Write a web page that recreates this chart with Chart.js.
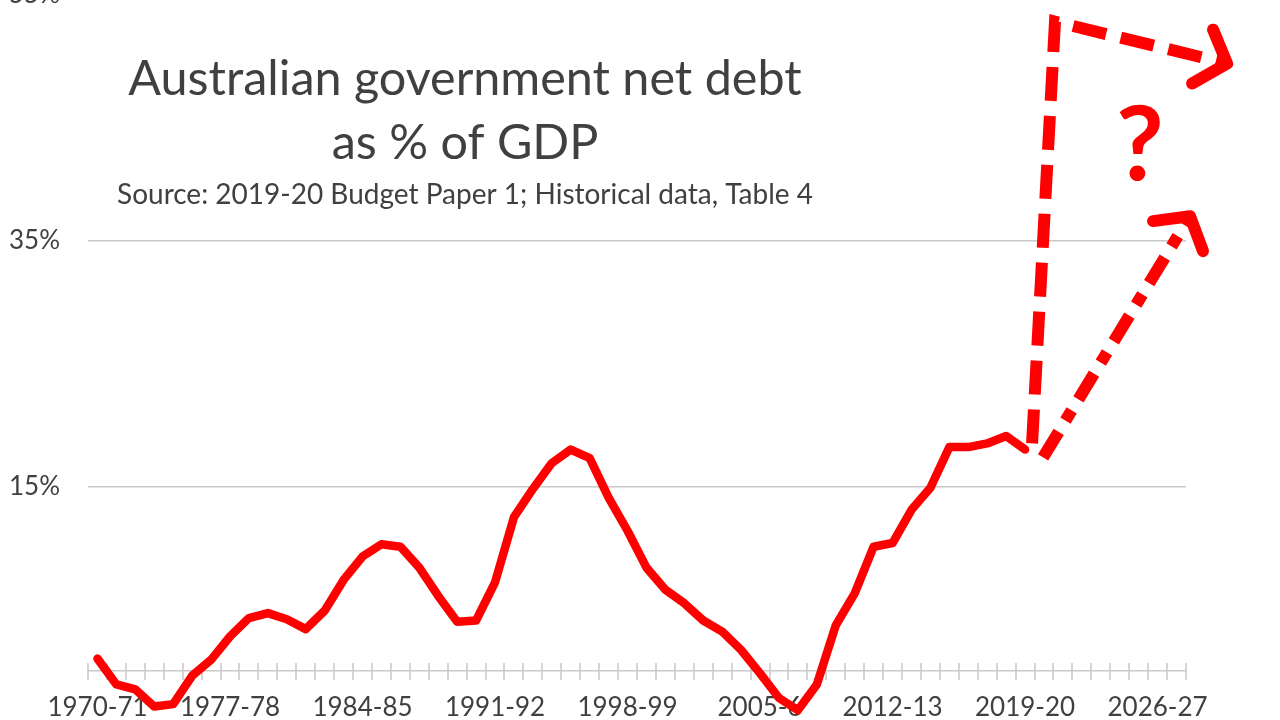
<!DOCTYPE html>
<html>
<head>
<meta charset="utf-8">
<script src="https://cdn.jsdelivr.net/npm/chart.js@4.4.1/dist/chart.umd.min.js"></script>
<style>
    html, body { margin: 0; padding: 0; background: #fff; overflow: hidden; }
    #wrap { position: relative; width: 1280px; height: 720px; overflow: hidden; }
    #box { position: absolute; left: 0; top: -49px; width: 1280px; height: 825px; }
</style>
</head>
<body>
<div id="wrap"><div id="box"><canvas id="graph"></canvas></div></div>
<script>
// financial years shown on the category axis
const YEARS = [
    "1970-71", "1971-72", "1972-73", "1973-74", "1974-75", "1975-76", "1976-77",
    "1977-78", "1978-79", "1979-80", "1980-81", "1981-82", "1982-83", "1983-84",
    "1984-85", "1985-86", "1986-87", "1987-88", "1988-89", "1989-90", "1990-91",
    "1991-92", "1992-93", "1993-94", "1994-95", "1995-96", "1996-97", "1997-98",
    "1998-99", "1999-00", "2000-1", "2001-2", "2002-3", "2003-4", "2004-5",
    "2005-6", "2006-7", "2007-8", "2008-9", "2009-10", "2010-11", "2011-12",
    "2012-13", "2013-14", "2014-15", "2015-16", "2016-17", "2017-18", "2018-19",
    "2019-20", "2020-21", "2021-22", "2022-23", "2023-24", "2024-25", "2025-26",
    "2026-27", "2027-28",
];

// net debt, % of GDP
const NET_DEBT = [
    1.0, -1.1, -1.5, -2.9, -2.7, -0.4, 0.9,
    2.8, 4.3, 4.7, 4.2, 3.4, 4.9, 7.4,
    9.3, 10.3, 10.1, 8.4, 6.1, 4.0, 4.1,
    7.2, 12.5, 14.8, 16.9, 18.0, 17.3, 14.1,
    11.4, 8.4, 6.6, 5.5, 4.1, 3.2, 1.7,
    -0.2, -2.2, -3.2, -1.1, 3.7, 6.3, 10.1,
    10.4, 13.1, 14.9, 18.2, 18.2, 18.5, 19.1,
    18.0,
];

const LABEL_EVERY = 7;
const Y_MIN = -5;
const Y_MAX = 55;
const Y_STEP = 20;

const TITLE = ["Australian government net debt", "as % of GDP"];
const SOURCE = "Source: 2019-20 Budget Paper 1; Historical data, Table 4";

// hand-drawn "what next?" arrows, in [category index, value] units
const UP_PATH = [[49.37, 18.5], [50.58, 52.8], [59.67, 49.4]];
const UP_HEAD = [[58.93, 52.15], [59.67, 49.4], [57.82, 47.77]];
const DIAG_PATH = [[49.95, 17.36], [57.71, 36.98]];
const DIAG_HEAD = [[55.76, 36.58], [57.71, 36.98], [58.4, 34.14]];
const QUESTION = [55.07, 42.66];

const OFFSET = 49; // canvas sits 49px above the page top
const RED = "#ff0000";
const GREY = "#c8c8c8";
const INK = "#404040";
const FONT = "Lato, 'Open Sans', sans-serif";

const decor = {
    id: "decor",
    beforeDatasetsDraw(chart) {
        const { ctx, scales: { x, y } } = chart;
        const y0 = Math.round(y.getPixelForValue(0));
        ctx.save();
        // axis tick marks crossing the zero line
        ctx.strokeStyle = GREY;
        ctx.lineWidth = 1.5;
        ctx.beginPath();
        for (let i = 0; i <= YEARS.length; i++) {
            const px = Math.round(x.getPixelForValue(i - 0.5));
            ctx.moveTo(px, y0 - 8);
            ctx.lineTo(px, y0 + 9);
        }
        ctx.stroke();

        // titles
        ctx.fillStyle = INK;
        ctx.textAlign = "center";
        ctx.textBaseline = "alphabetic";
        ctx.font = `48.5px ${FONT}`;
        ctx.fillText(TITLE[0], 465, 95 + OFFSET);
        ctx.fillText(TITLE[1], 465, 159 + OFFSET);
        ctx.font = `28px ${FONT}`;
        ctx.fillText(SOURCE, 465, 204 + OFFSET);
        ctx.restore();
    },
    afterDatasetsDraw(chart) {
        const { ctx, scales: { x, y } } = chart;
        const pt = ([i, v]) => [x.getPixelForValue(i), y.getPixelForValue(v)];
        const poly = (pts) => {
            ctx.beginPath();
            pts.map(pt).forEach(([px, py], k) => (k ? ctx.lineTo(px, py) : ctx.moveTo(px, py)));
            ctx.stroke();
        };
        ctx.save();
        ctx.strokeStyle = RED;
        ctx.lineWidth = 12;
        ctx.lineJoin = "miter";
        ctx.lineCap = "butt";
        ctx.setLineDash([34, 15]);
        poly(UP_PATH);
        ctx.setLineDash([30, 13, 12, 13]);
        poly(DIAG_PATH);
        ctx.setLineDash([]);
        ctx.lineCap = "round";
        ctx.lineJoin = "round";
        poly(UP_HEAD);
        poly(DIAG_HEAD);

        const [qx, qy] = pt(QUESTION);
        ctx.fillStyle = RED;
        ctx.font = `bold 104px ${FONT}`;
        ctx.textAlign = "center";
        ctx.textBaseline = "middle";
        ctx.fillText("?", qx, qy);
        ctx.restore();
    },
};

const ctx = document.getElementById("graph");

new Chart(ctx, {
    type: "line",
    data: {
        labels: YEARS,
        datasets: [
            {
                label: "Net debt",
                data: NET_DEBT,
                borderColor: RED,
                borderWidth: 8.5,
                pointRadius: 0,
                tension: 0,
                borderJoinStyle: "round",
                borderCapStyle: "round",
            },
        ],
    },
    options: {
        responsive: true,
        maintainAspectRatio: false,
        animation: false,
        layout: {
            padding: { top: 23, bottom: 6, left: 0, right: 94 },
        },
        plugins: {
            legend: { display: false },
            tooltip: { enabled: false },
        },
        scales: {
            x: {
                type: "category",
                offset: true,
                position: { y: 0 },
                border: { display: true, color: GREY, width: 1.5 },
                grid: { display: false, drawTicks: true, tickLength: 9 },
                ticks: {
                    autoSkip: false,
                    maxRotation: 0,
                    padding: 12,
                    color: INK,
                    font: { family: FONT, size: 26 },
                    callback: function (value, index) {
                        return index % LABEL_EVERY === 0 ? this.getLabelForValue(value) : "";
                    },
                },
            },
            y: {
                min: Y_MIN,
                max: Y_MAX,
                border: { display: false },
                grid: { color: GREY, lineWidth: 1.5, drawTicks: false },
                afterFit: (scale) => {
                    scale.width = 88;
                },
                ticks: {
                    stepSize: Y_STEP,
                    padding: 28,
                    color: INK,
                    font: { family: FONT, size: 26 },
                    callback: (v) => v + "%",
                },
            },
        },
    },
    plugins: [decor],
});
</script>
</body>
</html>
